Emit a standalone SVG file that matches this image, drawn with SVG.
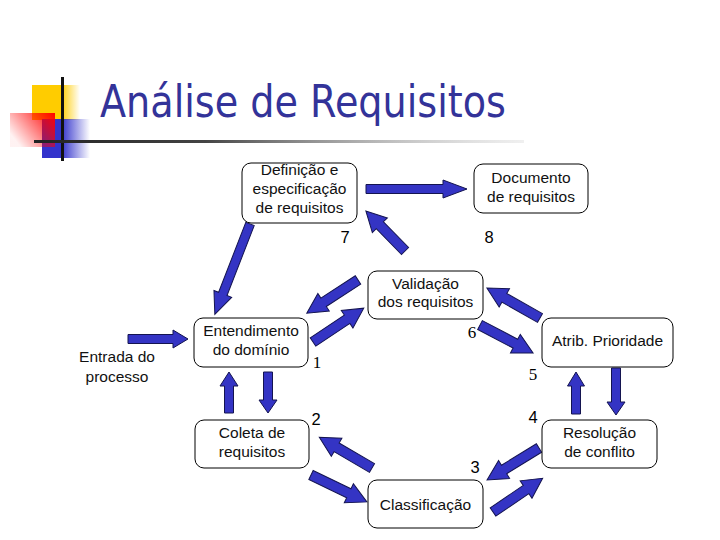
<svg xmlns="http://www.w3.org/2000/svg" width="720" height="540" viewBox="0 0 720 540">
<defs>
<linearGradient id="gy" x1="0" y1="0" x2="1" y2="0"><stop offset="0" stop-color="#FFCC00"/><stop offset="0.6" stop-color="#FFCC00"/><stop offset="1" stop-color="#FFCC00" stop-opacity="0"/></linearGradient>
<linearGradient id="gb" x1="0" y1="0" x2="1" y2="0"><stop offset="0" stop-color="#3333CC"/><stop offset="0.4" stop-color="#3333CC"/><stop offset="1" stop-color="#3333CC" stop-opacity="0"/></linearGradient>
<linearGradient id="gr" x1="1" y1="0" x2="0" y2="0.6"><stop offset="0" stop-color="#FF0000"/><stop offset="1" stop-color="#FF0000" stop-opacity="0.05"/></linearGradient>
<linearGradient id="gl" x1="0" y1="0" x2="1" y2="0"><stop offset="0" stop-color="#222"/><stop offset="0.35" stop-color="#444"/><stop offset="1" stop-color="#ccc" stop-opacity="0.3"/></linearGradient>
</defs>
<style>
.nd{fill:#fff;stroke:#000;stroke-width:1}
.t{font-family:"Liberation Sans",Arial,sans-serif;font-size:15.5px;fill:#111;text-anchor:middle}
.ns{font-family:"Liberation Sans",Arial,sans-serif;font-size:16.5px;fill:#000;text-anchor:middle}
.nr{font-family:"Liberation Serif","Times New Roman",serif;font-size:17px;fill:#000;text-anchor:middle}
.ar{fill:#3434C4;stroke:#141450;stroke-width:1}
</style>
<rect width="720" height="540" fill="#fff"/>
<g id="logo">
<rect x="32" y="85" width="48" height="35" fill="url(#gy)"/>
<rect x="42" y="119" width="48" height="39" fill="url(#gb)"/>
<rect x="10" y="113" width="45" height="34" fill="url(#gr)"/>
<rect x="61" y="77" width="3" height="84" fill="#111"/>
<rect x="34" y="140" width="490" height="3" fill="url(#gl)"/>
</g>
<text x="100" y="117" font-family="Tahoma,'DejaVu Sans','Liberation Sans',sans-serif" font-size="44" fill="#333399" textLength="406" lengthAdjust="spacingAndGlyphs">Análise de Requisitos</text>
<g id="connectors">
<path class="ar" transform="translate(366,189)" d="M0,-4.5H77V-9L101,0L77,9V4.5H0Z"/>
<path class="ar" transform="translate(405,251) rotate(-134.3)" d="M0,-5H36V-10.5L56,0L36,10.5V5H0Z"/>
<path class="ar" transform="translate(250,224) rotate(111.25)" d="M0,-4.5H75V-9.5L97,0L75,9.5V4.5H0Z"/>
<path class="ar" transform="translate(358,280) rotate(147.1)" d="M0,-5H41V-10.5L61,0L41,10.5V5H0Z"/>
<path class="ar" transform="translate(313,342) rotate(-33.7)" d="M0,-5H41V-10.5L61,0L41,10.5V5H0Z"/>
<path class="ar" transform="translate(540,318) rotate(-150.5)" d="M0,-5H41V-10.5L61,0L41,10.5V5H0Z"/>
<path class="ar" transform="translate(480,325) rotate(27.8)" d="M0,-5H40V-10.5L60,0L40,10.5V5H0Z"/>
<path class="ar" transform="translate(576,414) rotate(-90)" d="M0,-4.5H28V-8.5L42,0L28,8.5V4.5H0Z"/>
<path class="ar" transform="translate(616,368) rotate(90)" d="M0,-4.5H34V-9L47,0L34,9V4.5H0Z"/>
<path class="ar" transform="translate(229,413) rotate(-90)" d="M0,-4.5H27V-9L41,0L27,9V4.5H0Z"/>
<path class="ar" transform="translate(268,372) rotate(90)" d="M0,-4.5H28V-9L41,0L28,9V4.5H0Z"/>
<path class="ar" transform="translate(128,339)" d="M0,-4.5H45V-9L60,0L45,9V4.5H0Z"/>
<path class="ar" transform="translate(372,468) rotate(-149.7)" d="M0,-5H41V-10.5L61,0L41,10.5V5H0Z"/>
<path class="ar" transform="translate(311,475) rotate(25.7)" d="M0,-5H42V-10.5L62,0L42,10.5V5H0Z"/>
<path class="ar" transform="translate(539,448) rotate(148.4)" d="M0,-5H41V-10.5L61,0L41,10.5V5H0Z"/>
<path class="ar" transform="translate(493,512) rotate(-34.2)" d="M0,-5H40V-10.5L60,0L40,10.5V5H0Z"/>
</g>
<g id="definicao">
<rect class="nd" x="242" y="163" width="115" height="60" rx="9"/>
<text class="t" x="299.5" y="175">Definição e</text>
<text class="t" x="299.5" y="194">especificação</text>
<text class="t" x="299.5" y="213">de requisitos</text>
</g>
<g id="documento">
<rect class="nd" x="474" y="164" width="114" height="49" rx="9"/>
<text class="t" x="531" y="183">Documento</text>
<text class="t" x="531" y="202">de requisitos</text>
</g>
<g id="validacao">
<rect class="nd" x="368" y="271" width="115" height="48" rx="9"/>
<text class="t" x="425.5" y="289">Validação</text>
<text class="t" x="425.5" y="307">dos requisitos</text>
</g>
<g id="entendimento">
<rect class="nd" x="194" y="318" width="114" height="49" rx="9"/>
<text class="t" x="251" y="336">Entendimento</text>
<text class="t" x="251" y="355">do domínio</text>
</g>
<g id="atrib">
<rect class="nd" x="542" y="318" width="131" height="49" rx="9"/>
<text class="t" x="607.5" y="346">Atrib. Prioridade</text>
</g>
<g id="entrada">
<text class="t" x="117" y="362">Entrada do</text>
<text class="t" x="117" y="382">processo</text>
</g>
<g id="coleta">
<rect class="nd" x="195" y="420" width="114" height="48" rx="9"/>
<text class="t" x="252" y="438">Coleta de</text>
<text class="t" x="252" y="457">requisitos</text>
</g>
<g id="classificacao">
<rect class="nd" x="368" y="480" width="115" height="48" rx="9"/>
<text class="t" x="425.5" y="510">Classificação</text>
</g>
<g id="resolucao">
<rect class="nd" x="542" y="420" width="115" height="48" rx="9"/>
<text class="t" x="599.5" y="438">Resolução</text>
<text class="t" x="599.5" y="457">de conflito</text>
</g>
<g id="numeros">
<text class="ns" x="345" y="243">7</text>
<text class="ns" x="489" y="243">8</text>
<text class="nr" x="317" y="368">1</text>
<text class="nr" x="472" y="338">6</text>
<text class="nr" x="533" y="380">5</text>
<text class="ns" x="316" y="425">2</text>
<text class="ns" x="475" y="473">3</text>
<text class="ns" x="533" y="423">4</text>
</g>
</svg>
